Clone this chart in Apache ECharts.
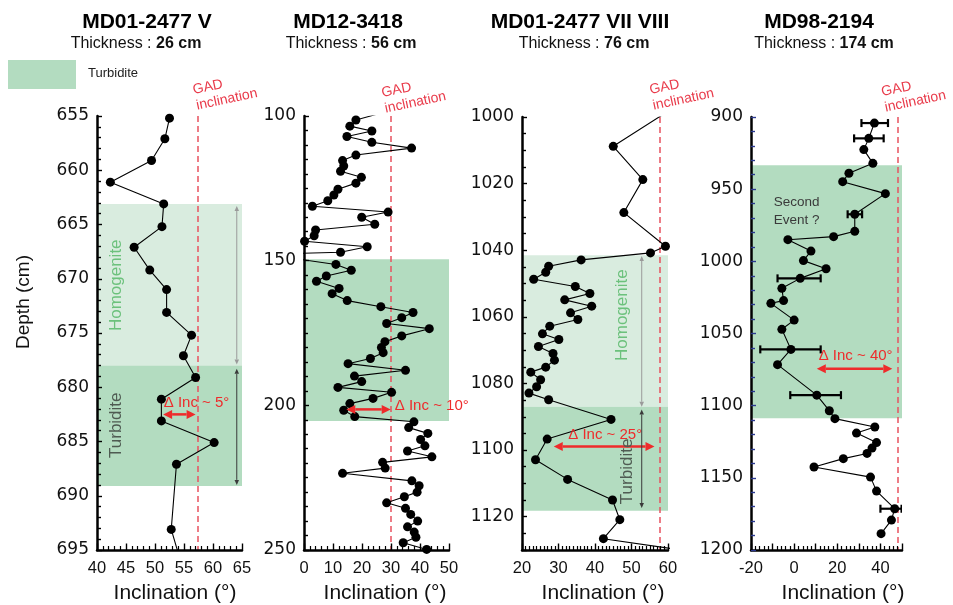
<!DOCTYPE html>
<html>
<head>
<meta charset="utf-8">
<script src="https://cdn.jsdelivr.net/npm/echarts@6/dist/echarts.min.js"></script>
<style>
  html, body { margin: 0; padding: 0; background: #fff; }
  #chart { width: 953px; height: 605px; }
</style>
</head>
<body>
<div id="chart"></div>
<script>
// ---- Core MD01-2477 V ----
const depthA = [655.2, 657.1, 659.1, 661.1, 663.1, 665.2, 667.1, 669.2, 671.0, 673.1, 675.2, 677.1, 679.1, 681.1, 683.1, 685.1, 687.1, 693.1, 697.1];
const incA   = [52.5, 51.7, 49.4, 42.3, 51.5, 51.2, 46.4, 49.1, 52.0, 52.0, 56.3, 54.9, 57.0, 51.1, 51.1, 60.2, 53.7, 52.8, 55.0];

// ---- Core MD12-3418 ----
const depthB = [99.5, 101.4, 103.5, 105.2, 107.1, 109.1, 111.1, 113.5, 115.4, 117.3,
                119.1, 121.2, 123.2, 125.3, 127.3, 129.3, 131.2, 133.2, 135.0, 137.4,
                139.4, 141.4, 143.3, 145.2, 147.1, 147.8, 151.3, 153.3, 155.3, 157.1,
                159.6, 161.4, 163.8, 165.9, 167.9, 169.7, 171.7, 173.5, 176.0, 178.0,
                180.0, 181.8, 183.8, 185.6, 187.9, 189.9, 191.8, 193.8, 195.5, 197.6,
                199.4, 201.7, 203.9, 205.7, 207.7, 209.7, 211.8, 214.0, 215.8, 217.8,
                219.7, 221.7, 223.5, 226.1, 227.8, 230.0, 231.6, 233.7, 235.6, 237.7,
                240.0, 242.0, 243.8, 245.6, 247.5, 249.8];
const incB   = [24.8, 17.9, 15.8, 23.4, 14.8, 23.4, 37.1, 17.9, 13.3, 13.7,
                12.6, 19.8, 17.9, 11.7, 10.3, 8.2, 2.9, 29.0, 19.9, 24.4,
                4.0, 3.5, 0.2, 21.8, 12.6, -13.5, 11.0, 16.3, 7.7, 4.3,
                12.1, 9.7, 14.9, 26.5, 37.6, 33.7, 28.5, 43.2, 33.7, 27.9,
                26.7, 27.3, 22.9, 15.2, 35.0, 17.4, 19.9, 11.7, 30.2, 23.8,
                15.8, 13.7, 17.5, 37.9, 36.1, 42.7, 40.2, 41.7, 35.7, 44.1,
                27.1, 28.0, 13.3, 37.2, 39.7, 39.0, 34.6, 28.5, 35.0, 36.8,
                39.2, 35.7, 38.0, 38.6, 34.2, 42.3];

// ---- Core MD01-2477 VII VIII ----
const depthC = [998.5, 1008.8, 1018.8, 1028.7, 1038.8, 1040.8, 1042.9, 1044.8, 1046.6, 1048.7,
                1050.9, 1053.0, 1054.9, 1056.8, 1058.8, 1060.8, 1062.8, 1065.1, 1066.8, 1068.9,
                1071.0, 1073.0, 1075.1, 1076.6, 1078.9, 1081.0, 1082.9, 1084.9, 1090.8, 1096.7,
                1102.9, 1108.8, 1115.0, 1120.9, 1126.6, 1130.4];
const incC   = [59.7, 45.0, 53.1, 47.9, 59.3, 55.2, 36.2, 27.3, 26.5, 23.2,
                34.6, 38.6, 31.7, 39.1, 33.3, 35.3, 27.6, 25.6, 30.1, 24.5,
                28.5, 28.9, 26.5, 22.4, 25.1, 24.0, 21.9, 27.3, 44.4, 26.9,
                23.7, 32.5, 44.8, 46.8, 42.3, 66.0];

// ---- Core MD98-2194 ----
const depthD = [904.2, 914.8, 922.6, 932.1, 939.0, 944.8, 953.1, 967.4, 979.2, 982.9,
                985.0, 992.9, 999.5, 1005.1, 1011.8, 1018.7, 1027.2, 1029.1, 1040.7, 1047.1,
                1061.0, 1071.6, 1092.7, 1103.5, 1109.0, 1114.8, 1119.0, 1125.6, 1129.4, 1133.1,
                1136.7, 1142.5, 1149.5, 1159.2, 1171.4, 1179.3, 1188.7];
const incD   = [37.2, 34.6, 32.3, 36.5, 25.4, 22.5, 42.3, 28.1, 28.1, 18.3,
                -2.9, 7.8, 4.3, 14.8, 2.8, -5.7, -4.9, -10.8, 0.0, -5.7,
                -1.5, -7.7, 10.5, 16.3, 18.9, 37.4, 28.9, 38.2, 36.1, 33.8,
                22.8, 9.2, 35.4, 38.2, 46.6, 45.1, 40.3];
// error bars (depth, low, high) for MD98-2194
const errDepthD = [904.2, 914.8, 967.4, 1011.8, 1061.0, 1092.7, 1171.4];
const errLowD   = [31.2, 27.8, 24.8, -7.7, -15.7, -1.8, 40.0];
const errHighD  = [43.5, 41.5, 31.5, 12.3, 12.3, 21.7, 49.8];

// titles
const coreNames = ['MD01-2477 V', 'MD12-3418', 'MD01-2477 VII VIII', 'MD98-2194'];
const thickness = ['26 cm', '56 cm', '76 cm', '174 cm'];

// axis scales: [min, max, tick interval, minor splits], label step
const xScale = [[40, 65, 5, 5], [0, 50, 10, 5], [20, 60, 10, 10], [-20, 50, 10, 5]];
const xLabelStep = [5, 10, 10, 20];
const yScale = [[655, 695, 5, 5], [100, 250, 50, 10], [1000, 1130, 20, 4], [900, 1200, 50, 5]];
const yLabelStep = [5, 50, 20, 50];

// GAD inclination per core
const gadInc = [57.3, 30.0, 57.8, 48.1];

// intervals: homogenite [top, bottom], turbidite [top, bottom]
const homogenite = [[663.1, 678.0], null, [1041.5, 1087.0], null];
const turbidite  = [[678.0, 689.1], [149.5, 205.4], [1087.0, 1118.2], [933.5, 1108.8]];

// inclination offset arrows: depth, from, to
const deltaArrow = [[682.5, 51.4, 57.0], [201.4, 14.6, 29.9], [1098.9, 28.7, 56.3], [1074.4, 10.5, 45.5]];
const deltaLabel = ['Δ Inc ~ 5°', 'Δ Inc ~ 10°', 'Δ Inc ~ 25°', 'Δ Inc ~ 40°'];
const deltaLabelAt = [[51.5, 681.4], [31.3, 200.2], [42.8, 1095.4], [28.5, 1065.6]];

// unit extent arrows (panel, x, top, bottom, kind)
const extentArrows = [
  [0, 64.1, 663.3, 677.9, 'h'], [0, 64.1, 678.3, 689.0, 't'],
  [2, 52.8, 1041.7, 1087.0, 'h'], [2, 52.8, 1087.8, 1117.4, 't']
];
// rotated unit labels (panel, text, x, depth, kind)
const unitLabels = [
  [0, 'Homogenite', 43.4, 670.6, 'h'], [0, 'Turbidite', 43.4, 683.5, 't'],
  [2, 'Homogenite', 47.5, 1059.5, 'h'], [2, 'Turbidite', 48.8, 1106.4, 't']
];

// ---- layout & style ----
const FONT = '"Liberation Sans", Arial, sans-serif';
const FONT_Y = '"DejaVu Sans", sans-serif';
const HOMO = '#d9ecdf';
const TURB = '#b3dcc0';
const RED = '#ee2b2b';
const grids = [
  { left: 97,  top: 116, width: 145, height: 434 },
  { left: 304, top: 116, width: 145, height: 434 },
  { left: 522, top: 117, width: 146, height: 433 },
  { left: 751, top: 117, width: 151, height: 433 }
];
const tickColorY = ['#000', '#000', '#000', '#2b3990'];
const inclTitleX = [175, 385, 603, 843];
const titleX = [147, 348, 580, 819];
const thickX = [136, 351, 584, 824];
const gadLabelDx = [-6, -11, -12, -18];
const gadLabelY = [82.5, 85.5, 82.5, 84.5];

const zip = (xs, ys) => xs.map((x, k) => [x, ys[k]]);

const xAxes = [], yAxes = [], series = [];
for (let i = 0; i < 4; i++) {
  const [xmin, xmax, xint, xsplit] = xScale[i];
  const [ymin, ymax, yint, ysplit] = yScale[i];
  xAxes.push({
    type: 'value', gridIndex: i, min: xmin, max: xmax, interval: xint, position: 'bottom', z: 10,
    axisLine: { show: true, onZero: false, lineStyle: { color: '#000', width: 2.5 } },
    axisTick: { show: true, inside: true, length: 6.5, lineStyle: { color: '#000', width: 1.4 } },
    minorTick: { show: true, splitNumber: xsplit, length: 4, lineStyle: { color: '#000', width: 1.2 } },
    axisLabel: {
      margin: 10, color: '#111', fontSize: 16.5, fontFamily: FONT,
      formatter: v => (Math.abs(v % xLabelStep[i]) < 1e-6 ? String(v) : '')
    },
    splitLine: { show: false }
  });
  yAxes.push({
    type: 'value', gridIndex: i, min: ymin, max: ymax, interval: yint, inverse: true, z: 10,
    axisLine: { show: true, onZero: false, lineStyle: { color: '#000', width: 2.5 } },
    axisTick: { show: true, inside: true, length: 5, lineStyle: { color: tickColorY[i], width: 1.4 } },
    minorTick: { show: true, splitNumber: ysplit, length: 4, lineStyle: { color: tickColorY[i], width: 1.4 } },
    axisLabel: {
      margin: 8, color: '#111', fontSize: 17, fontFamily: FONT_Y,
      formatter: v => (Math.abs(v % yLabelStep[i]) < 1e-6 ? String(v) : '')
    },
    splitLine: { show: false }
  });

  const areas = [];
  if (homogenite[i]) areas.push([{ yAxis: homogenite[i][0], itemStyle: { color: HOMO } }, { yAxis: homogenite[i][1] }]);
  if (turbidite[i]) areas.push([{ yAxis: turbidite[i][0], itemStyle: { color: TURB } }, { yAxis: turbidite[i][1] }]);

  const depths = [depthA, depthB, depthC, depthD][i];
  const incs = [incA, incB, incC, incD][i];
  series.push({
    type: 'line', xAxisIndex: i, yAxisIndex: i, z: 5,
    data: zip(incs, depths),
    symbol: 'circle', symbolSize: 9, showSymbol: true, showAllSymbol: true,
    itemStyle: { color: '#000' },
    lineStyle: { color: '#000', width: 1.1 },
    clip: true, silent: true, animation: false,
    markArea: { silent: true, label: { show: false }, data: areas },
    markLine: {
      silent: true, symbol: 'none', label: { show: false }, animation: false,
      lineStyle: { color: '#e8525f', width: 1.5, type: [6, 4] },
      data: [{ xAxis: gadInc[i] }]
    }
  });
}

// error bars on MD98-2194
series.push({
  type: 'custom', xAxisIndex: 3, yAxisIndex: 3, z: 4, clip: true, silent: true, animation: false,
  data: errDepthD.map((d, k) => [errLowD[k], errHighD[k], d]),
  encode: { x: [0, 1], y: 2 },
  renderItem: (params, api) => {
    const a = api.coord([api.value(0), api.value(2)]);
    const b = api.coord([api.value(1), api.value(2)]);
    const h = 4;
    const st = { stroke: '#000', lineWidth: 2.2 };
    return {
      type: 'group',
      children: [
        { type: 'line', shape: { x1: a[0], y1: a[1], x2: b[0], y2: b[1] }, style: st },
        { type: 'line', shape: { x1: a[0], y1: a[1] - h, x2: a[0], y2: a[1] + h }, style: st },
        { type: 'line', shape: { x1: b[0], y1: b[1] - h, x2: b[0], y2: b[1] + h }, style: st }
      ]
    };
  }
});

const chart = echarts.init(document.getElementById('chart'), null, { renderer: 'canvas' });
chart.setOption({
  animation: false,
  backgroundColor: '#fff',
  grid: grids.map(g => Object.assign({ containLabel: false }, g)),
  xAxis: xAxes,
  yAxis: yAxes,
  series: series
});

// ---- annotations anchored on the axes' scales ----
const px = (i, x, y) => chart.convertToPixel({ gridIndex: i }, [x, y]);

function arrowEls(p, q, color, lw, hl, hw) {
  const dx = q[0] - p[0], dy = q[1] - p[1];
  const L = Math.hypot(dx, dy), ux = dx / L, uy = dy / L, nx = -uy, ny = ux;
  const p2 = [p[0] + ux * hl, p[1] + uy * hl];
  const q2 = [q[0] - ux * hl, q[1] - uy * hl];
  return [
    { type: 'line', z: 20, silent: true, shape: { x1: p2[0], y1: p2[1], x2: q2[0], y2: q2[1] }, style: { stroke: color, lineWidth: lw } },
    { type: 'polygon', z: 20, silent: true, shape: { points: [p, [p2[0] + nx * hw / 2, p2[1] + ny * hw / 2], [p2[0] - nx * hw / 2, p2[1] - ny * hw / 2]] }, style: { fill: color } },
    { type: 'polygon', z: 20, silent: true, shape: { points: [q, [q2[0] + nx * hw / 2, q2[1] + ny * hw / 2], [q2[0] - nx * hw / 2, q2[1] - ny * hw / 2]] }, style: { fill: color } }
  ];
}

const g = [];
const text = (x, y, str, font, fill, extra) => Object.assign({
  type: 'text', x, y, z: 20, silent: true,
  style: { text: str, font, fill, align: 'center', verticalAlign: 'middle' }
}, extra || {});

for (let i = 0; i < 4; i++) {
  // titles
  g.push(text(titleX[i], 22, coreNames[i], 'bold 21px ' + FONT, '#000'));
  g.push({
    type: 'text', x: thickX[i], y: 44, z: 20, silent: true,
    style: {
      text: '{a|Thickness : }{b|' + thickness[i] + '}',
      align: 'center', verticalAlign: 'middle',
      rich: {
        a: { fontSize: 16, fontFamily: FONT, fill: '#111' },
        b: { fontSize: 16, fontFamily: FONT, fontWeight: 'bold', fill: '#111' }
      }
    }
  });
  // x axis title
  g.push(text(inclTitleX[i], 593, 'Inclination (°)', '21px ' + FONT, '#111'));

  // GAD label
  const gp = px(i, gadInc[i], yScale[i][0]);
  g.push({
    type: 'text', x: gp[0] + gadLabelDx[i], y: gadLabelY[i], rotation: 12 * Math.PI / 180, z: 20, silent: true,
    style: { text: 'GAD\ninclination', font: '14px ' + FONT, fill: '#e93a4a', align: 'left', verticalAlign: 'top', lineHeight: 16 }
  });

  // inclination offset arrow and label
  const [ad, a0, a1] = deltaArrow[i];
  g.push(...arrowEls(px(i, a0, ad), px(i, a1, ad), RED, 2.5, 9, 9));
  const lp = px(i, deltaLabelAt[i][0], deltaLabelAt[i][1]);
  g.push({
    type: 'text', x: lp[0], y: lp[1], z: 20, silent: true,
    style: { text: deltaLabel[i], font: '15px ' + FONT, fill: RED, align: (i < 2 ? 'left' : 'center'), verticalAlign: 'middle' }
  });
}

extentArrows.forEach(([i, x, d0, d1, kind]) => {
  g.push(...arrowEls(px(i, x, d0), px(i, x, d1), kind === 'h' ? '#9a9a9a' : '#3a3a3a', 1, 5, 4.5));
});

unitLabels.forEach(([i, str, x, d, kind]) => {
  const p = px(i, x, d);
  g.push(text(p[0], p[1], str, '17px ' + FONT, kind === 'h' ? '#6cc17c' : '#4f5b52', { rotation: Math.PI / 2 }));
});

// second event note on MD98-2194
const se = px(3, 1.2, 965);
g.push({
  type: 'text', x: se[0], y: se[1], z: 20, silent: true,
  style: { text: 'Second\nEvent ?', font: '13.5px ' + FONT, fill: '#3a3a3a', align: 'center', verticalAlign: 'middle', lineHeight: 18 }
});

// depth axis title
g.push(text(24, 302, 'Depth (cm)', '19px ' + FONT, '#111', { rotation: Math.PI / 2 }));

// legend
g.push({ type: 'rect', z: 20, silent: true, shape: { x: 8, y: 60, width: 68, height: 29 }, style: { fill: TURB } });
g.push({
  type: 'text', x: 88, y: 73, z: 20, silent: true,
  style: { text: 'Turbidite', font: '13px ' + FONT, fill: '#222', align: 'left', verticalAlign: 'middle' }
});

chart.setOption({ graphic: g });
</script>
</body>
</html>
